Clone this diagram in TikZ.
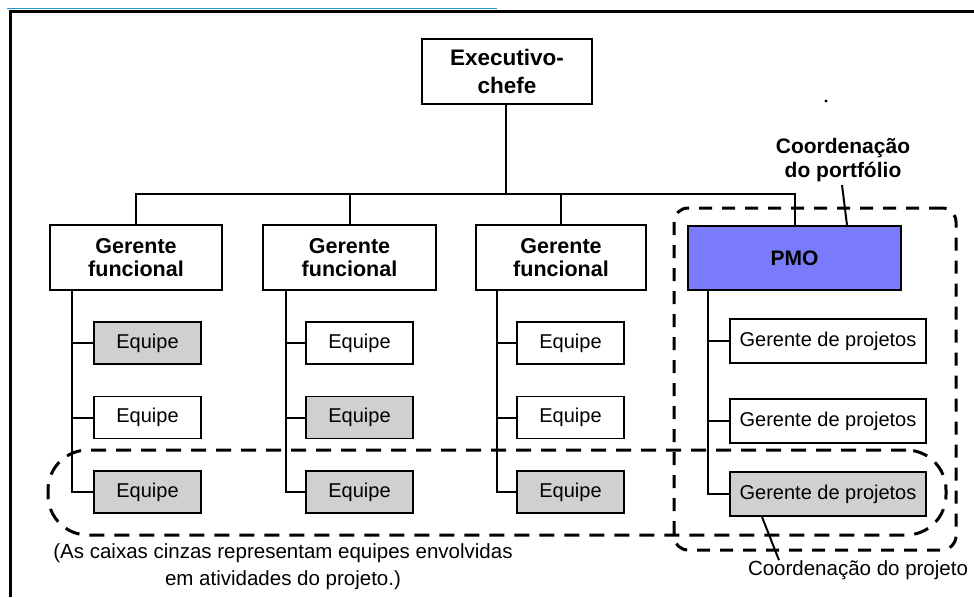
\documentclass[tikz,border=0pt]{standalone}
\usepackage{fontspec}
\setmainfont{Liberation Sans}
\usetikzlibrary{positioning}
\definecolor{boxgray}{RGB}{208,208,208}
\definecolor{pmoblue}{RGB}{122,122,252}
\definecolor{topcyan}{RGB}{40,150,210}
\tikzset{
  hdr/.style={draw, line width=1.8pt, fill=white, inner sep=0pt, align=center,
    font=\bfseries\fontsize{21.5}{23.5}\selectfont},
  teambox/.style={draw, line width=1.8pt, fill=white, inner sep=0pt,
    minimum width=107pt, minimum height=42pt,
    font=\fontsize{20}{24}\selectfont},
  grayteam/.style={teambox, fill=boxgray},
  gpbox/.style={teambox, minimum width=196pt, minimum height=44pt},
  conn/.style={line width=2pt},
  bigdash/.style={line width=3pt, dash pattern=on 15pt off 10pt},
  note/.style={align=center, inner sep=0pt, font=\fontsize{20.5}{27}\selectfont}
}
\begin{document}
\begin{tikzpicture}[x=1pt,y=-1pt]
\useasboundingbox (0,0) rectangle (974,597);
\fill[white] (0,0) rectangle (974,597);
% frame
\draw[topcyan, line width=1pt] (7,8) -- (497,8);
\draw[line width=3pt] (10,597) -- (10,11) -- (974,11);
\fill (826,101) circle (1.6pt);

% top level
\node[hdr, minimum width=170pt, minimum height=65pt,
  font=\bfseries\fontsize{22.5}{27.5}\selectfont] (ceo) at (507,71.5) {Executivo-\\chefe};

\node[hdr, minimum width=172pt, minimum height=65pt] (gf1) at (136,257.5) {Gerente\\funcional};
\node[hdr, minimum width=173pt, minimum height=65pt] (gf2) at (349.5,257.5) {Gerente\\funcional};
\node[hdr, minimum width=170pt, minimum height=65pt] (gf3) at (561,257.5) {Gerente\\funcional};
\node[hdr, fill=pmoblue, minimum width=213pt, minimum height=64pt,
  font=\bfseries\fontsize{21}{24}\selectfont] (pmo) at (794.5,258) {PMO};

% tree connectors
\coordinate (bus) at (506,194);
\draw[line width=2.6pt] (ceo.south -| bus) -- (bus);
\draw[conn] (gf1.north) |- (bus);
\draw[conn] (pmo.north) |- (bus);
\draw[conn] (gf2.north) -- (gf2.north |- bus);
\draw[conn] (gf3.north) -- (gf3.north |- bus);

% teams
\node[grayteam] (e11) at (147.5,343) {Equipe};
\node[teambox]  (e12) at (147.5,417.5) {Equipe};
\node[grayteam] (e13) at (147.5,492) {Equipe};
\node[teambox]  (e21) at (359.5,343) {Equipe};
\node[grayteam] (e22) at (359.5,417.5) {Equipe};
\node[grayteam] (e23) at (359.5,492) {Equipe};
\node[teambox]  (e31) at (570.5,343) {Equipe};
\node[teambox]  (e32) at (570.5,417.5) {Equipe};
\node[grayteam] (e33) at (570.5,492) {Equipe};
\node[gpbox] (p1) at (828,341) {Gerente de projetos};
\node[gpbox] (p2) at (828,421) {Gerente de projetos};
\node[gpbox, fill=boxgray] (p3) at (828,494) {Gerente de projetos};

\coordinate (c1) at (72,290);
\coordinate (c2) at (286,290);
\coordinate (c3) at (497,290);
\coordinate (c4) at (708,290);
\draw[conn] (c1) |- (e13.west);
\draw[conn] (e11.west) -- (e11.west -| c1);
\draw[conn] (e12.west) -- (e12.west -| c1);
\draw[conn] (c2) |- (e23.west);
\draw[conn] (e21.west) -- (e21.west -| c2);
\draw[conn] (e22.west) -- (e22.west -| c2);
\draw[line width=2.6pt] (c3) |- (e33.west);
\draw[conn] (e31.west) -- (e31.west -| c3);
\draw[conn] (e32.west) -- (e32.west -| c3);
\draw[conn] (c4) |- (p3.west);
\draw[conn] (p1.west) -- (p1.west -| c4);
\draw[conn] (p2.west) -- (p2.west -| c4);

% dashed groupings
\node[draw, bigdash, dash pattern=on 13pt off 10pt, rounded corners=14pt,
  minimum width=282pt, minimum height=342pt, inner sep=0pt] (port) at (815,379) {};
\node[draw, bigdash, rounded corners=40pt,
  minimum width=898pt, minimum height=85pt, inner sep=0pt] (proj) at (497,492.5) {};

% labels
\node[note, font=\bfseries\fontsize{21}{24}\selectfont] (lport) at (843,160) {Coordenação\\do portfólio};
\draw[line width=2pt] (842,185) -- ([xshift=52.5pt]pmo.north);
\node[note] (lproj) at (858,570) {Coordenação do projeto};
\draw[line width=2pt] ([xshift=-66pt]p3.south) -- (lproj.north -| 779,0);
\node[note] (caption) at (283,566.5) {(As caixas cinzas representam equipes envolvidas\\em atividades do projeto.)};
\end{tikzpicture}
\end{document}
